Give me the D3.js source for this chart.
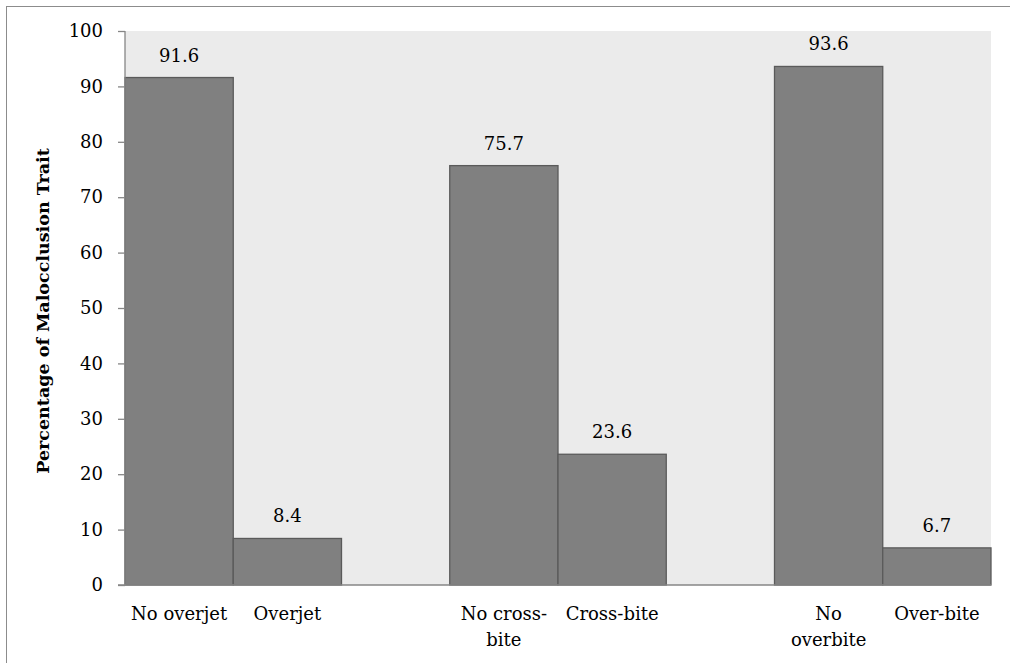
<!DOCTYPE html>
<html>
<head>
<meta charset="utf-8">
<script src="https://cdn.jsdelivr.net/npm/d3@7"></script>
<style>
  html, body { margin: 0; padding: 0; background: #fff; }
  svg { display: block; }
  text { font-family: "DejaVu Serif", "Liberation Serif", serif; fill: #000; }
</style>
</head>
<body>
<svg id="chart" width="1010" height="663"></svg>
<script>
// Slots along the x axis; blank slots separate the three trait groups
const categories = ["No overjet", "Overjet", "gap1", "No cross-bite", "Cross-bite", "gap2", "No overbite", "Over-bite"];
// Tick label text, with line breaks where the label wraps
const tickLabels = ["No overjet", "Overjet", "", "No cross-\nbite", "Cross-bite", "", "No\noverbite", "Over-bite"];
// Percentages (null = empty slot)
const values = [91.6, 8.4, null, 75.7, 23.6, null, 93.6, 6.7];
const yTicks = [0, 10, 20, 30, 40, 50, 60, 70, 80, 90, 100];
const yTitle = "Percentage of Malocclusion Trait";

const svg = d3.select("#chart");
const W = 1010, H = 663;
const plot = { left: 125, right: 991, top: 31, bottom: 585 };
const FS = 18;

// outer frame
svg.append("rect")
  .attr("x", 6.5).attr("y", 6.5)
  .attr("width", W + 20).attr("height", H + 20)
  .attr("fill", "none").attr("stroke", "#8c8c8c").attr("stroke-width", 1);

const x = d3.scaleBand().domain(categories).range([plot.left, plot.right]).padding(0);
const y = d3.scaleLinear().domain([0, 100]).range([plot.bottom, plot.top]);

// plot background
svg.append("rect")
  .attr("x", plot.left).attr("y", plot.top)
  .attr("width", plot.right - plot.left).attr("height", plot.bottom - plot.top)
  .attr("fill", "#ebebeb");

const data = categories.map((c, i) => ({ c, v: values[i], label: tickLabels[i] }));

// bars
svg.append("g").selectAll("rect")
  .data(data.filter(d => d.v !== null))
  .join("rect")
  .attr("x", d => x(d.c))
  .attr("y", d => y(d.v))
  .attr("width", x.bandwidth())
  .attr("height", d => y(0) - y(d.v))
  .attr("fill", "#808080")
  .attr("stroke", "#5a5a5a")
  .attr("stroke-width", 1.3);

// value labels
svg.append("g").selectAll("text")
  .data(data.filter(d => d.v !== null))
  .join("text")
  .attr("x", d => x(d.c) + x.bandwidth() / 2)
  .attr("y", d => y(d.v) - 16)
  .attr("text-anchor", "middle")
  .attr("font-size", FS)
  .text(d => d.v.toFixed(1));

// y axis
const yAxis = svg.append("g")
  .attr("transform", `translate(${plot.left},0)`)
  .call(d3.axisLeft(y).tickValues(yTicks).tickSize(7).tickPadding(15).tickFormat(d3.format("d")));
yAxis.selectAll("path, line").attr("stroke", "#868686").attr("stroke-width", 1.3);
yAxis.select(".domain").attr("d", `M0,${plot.top}V${plot.bottom}`);
yAxis.selectAll("text")
  .attr("font-family", "DejaVu Serif, serif")
  .attr("font-size", FS).attr("fill", "#000");

// x axis baseline
const xAxis = svg.append("g")
  .attr("transform", `translate(0,${plot.bottom})`)
  .call(d3.axisBottom(x).tickSize(0).tickFormat(""));
xAxis.select(".domain").attr("stroke", "#868686").attr("stroke-width", 1.5)
  .attr("d", `M${plot.left - 7},0H${plot.right}`);

// category labels (multi-line)
const lbl = svg.append("g").selectAll("text")
  .data(data.filter(d => d.label))
  .join("text")
  .attr("text-anchor", "middle")
  .attr("font-size", FS)
  .attr("x", d => x(d.c) + x.bandwidth() / 2)
  .attr("y", plot.bottom + 35);
lbl.selectAll("tspan")
  .data(d => d.label.split("\n").map(t => ({ t, cx: x(d.c) + x.bandwidth() / 2 })))
  .join("tspan")
  .attr("x", d => d.cx)
  .attr("dy", (d, i) => i === 0 ? 0 : 26)
  .text(d => d.t);

// y axis title
svg.append("text")
  .attr("transform", `translate(49,${(plot.top + plot.bottom) / 2 + 3}) rotate(-90)`)
  .attr("text-anchor", "middle")
  .attr("font-size", 17.5)
  .attr("font-weight", "bold")
  .text(yTitle);
</script>
</body>
</html>
